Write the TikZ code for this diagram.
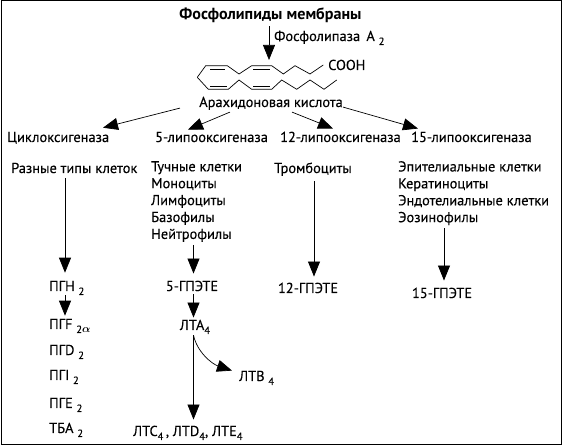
\documentclass[tikz,border=0pt]{standalone}
\usepackage{fontspec}
\usepackage{tikz}
\usetikzlibrary{arrows.meta,positioning}
\setmainfont[FakeBold=0.2]{PT Sans}
\newfontfamily\titlefont{PT Sans Bold}
\newcommand{\idx}[1]{\raisebox{-4pt}{\fontsize{10.5}{12}\selectfont\boldmath #1}}
\begin{document}
\begin{tikzpicture}[
        x=1pt,
        y=-1pt,
        every node/.style={font=\fontsize{14.4}{16.9}\selectfont, align=left, inner sep=0pt},
        arrow/.style={-{Triangle[length=15pt,width=12pt]}, line width=0.7pt},
        chainline/.style={line width=0.7pt, line join=miter}
    ]
        \useasboundingbox (0,0) rectangle (563,446);
        \draw[line width=1pt] (1.5,0.5) rectangle (561.5,444.5);
        % top of the scheme
        \node[anchor=base, font=\fontsize{16.1}{18}\selectfont\titlefont] (lipids) at (270.5,20) {Фосфолипиды мембраны};
        \node[anchor=base west] (pla) at (274,41) {Фосфолипаза\, A \idx{2}};
        \coordinate (chain) at (269,60);
        \draw[arrow] ([shift={(0,3)}]lipids.south -| 269,0) -- (chain);
        \draw[chainline] (197.3,77.3) -- (205.7,65.7) -- (227.3,65.7) -- (239,74) -- (251.7,65.7) -- (271.7,65.7) -- (283.3,74) -- (295,65.7) -- (310,74) -- (323.3,65);
        \draw[chainline] (197.3,77.3) -- (208.3,89.3) -- (228.3,89.3) -- (239,80) -- (251.7,89.3) -- (271.7,89.3) -- (281.7,80) -- (296.7,89.3) -- (310,80) -- (324,89.3) -- (336.7,80);
        \draw[chainline] (210,69) -- (225,69) (253.3,69) -- (270,69) (210,86) -- (226.7,86) (253.3,86) -- (270,86);
        \node[anchor=base west] (cooh) at (328,70) {COOH};
        \node[anchor=base] (acid) at (271,107) {Арахидоновая кислота};
        % enzymes
        \node[anchor=base west] (cyclo) at (7,142) {Циклоксигеназа};
        \node[anchor=base west] (lox5) at (155,142) {5-липооксигеназа};
        \node[anchor=base west] (lox12) at (280,142) {12-липооксигеназа};
        \node[anchor=base west] (lox15) at (411,142) {15-липооксигеназа};
        \draw[arrow] ([shift={(0,-2)}]acid.south -| 180,0) -- ([shift={(0,-4)}]cyclo.north -| 103,0);
        \draw[arrow] ([shift={(0,2)}]acid.south -| 230,0) -- ([shift={(0,-2)}]lox5.north -| 188,0);
        \draw[arrow] ([shift={(0,2)}]acid.south -| 292,0) -- ([shift={(0,-3)}]lox12.north -| 333,0);
        \draw[arrow] ([shift={(0,-3)}]acid.south -| 343,0) -- ([shift={(0,-3)}]lox15.north -| 418,0);
        % cells
        \node[anchor=base west] (cellsa) at (11,173) {Разные типы клеток};
        \node[anchor=north west] (cellsb) at (151,161) {Тучные клетки\\Моноциты\\Лимфоциты\\Базофилы\\Нейтрофилы};
        \node[anchor=base west] (cellsc) at (274,173) {Тромбоциты};
        \node[anchor=north west] (cellsd) at (398,161) {Эпителиальные клетки\\Кератиноциты\\Эндотелиальные клетки\\Эозинофилы};
        % products
        \node[anchor=base west] (pgh) at (49,291) {ПГН \idx{2}};
        \node[anchor=base west] (pgf) at (49,329) {ПГF \idx{2$\alpha$}};
        \node[anchor=base west] (pgd) at (49,355) {ПГD \idx{2}};
        \node[anchor=base west] (pgi) at (49,380) {ПГI \idx{2}};
        \node[anchor=base west] (pge) at (49,408) {ПГЕ \idx{2}};
        \node[anchor=base west] (tba) at (49,433) {ТБА \idx{2}};
        \node[anchor=base] (hpete5) at (192,291) {5-ГПЭТЕ};
        \node[anchor=base] (lta) at (195,330) {ЛТА\idx{4}};
        \node[anchor=base west] (ltb) at (239,381) {ЛТВ \idx{4}};
        \node[anchor=base west] (ltc) at (133,436) {ЛТС\idx{4}\,, ЛТD\idx{4}, ЛТЕ\idx{4}};
        \node[anchor=base] (hpete12) at (308,293) {12-ГПЭТЕ};
        \node[anchor=base] (hpete15) at (442,298) {15-ГПЭТЕ};
        % vertical arrows
        \draw[arrow] ([shift={(0,5)}]cellsa.south -| 65,0) -- ([shift={(0,-8)}]pgh.north -| 65,0);
        \draw[arrow] ([shift={(0,0)}]pgh.south -| 65,0) -- ([shift={(0,-3)}]pgf.north -| 65,0);
        \draw[arrow] ([shift={(0,3)}]cellsb.south -| 193.5,0) -- ([shift={(0,-7)}]hpete5.north -| 193.5,0);
        \draw[arrow] ([shift={(0,3)}]hpete5.south -| 193.5,0) -- ([shift={(0,-2)}]lta.north -| 193.5,0);
        \draw[arrow] ([shift={(0,1)}]lta.south -| 193.5,0) -- ([shift={(0,-6)}]ltc.north -| 193.5,0);
        \draw[arrow] ([shift={(0,1)}]lta.south -| 193.5,0) .. controls (197,352) and (212,364) .. ([shift={(-7,0)}]ltb.north west);
        \draw[arrow] ([shift={(0,5)}]cellsc.south -| 314,0) -- ([shift={(0,-6)}]hpete12.north -| 314,0);
        \draw[arrow] ([shift={(0,3)}]cellsd.south -| 444,0) -- ([shift={(0,-7)}]hpete15.north -| 444,0);
    \end{tikzpicture}
\end{document}
